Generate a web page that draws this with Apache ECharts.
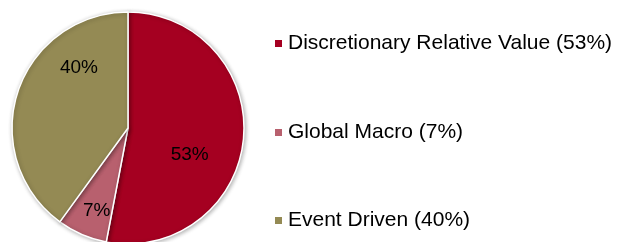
<!DOCTYPE html>
<html>
<head>
<meta charset="utf-8">
<script src="https://cdn.jsdelivr.net/npm/echarts@6/dist/echarts.min.js"></script>
<style>
  html, body { margin: 0; padding: 0; background: #fff; }
  #chart { width: 617px; height: 242px; }
</style>
</head>
<body>
<div id="chart"></div>
<script>
// strategy split, percent
var categories = ['Discretionary Relative Value', 'Global Macro', 'Event Driven'];
var values = [53, 7, 40];
var colors = ['#A50021', '#B8606E', '#948A54'];
// where the slice labels sit (Excel puts them off the default spot)
var labelShift = [[1, 21], [-7, 27], [9, -41]];
var legendTops = [28, 117, 205];

var myChart = echarts.init(document.getElementById('chart'));

var pieData = [];
for (var i = 0; i < categories.length; i++) {
    pieData.push({
        name: categories[i],
        value: values[i],
        itemStyle: { color: colors[i] },
        label: { offset: labelShift[i] }
    });
}

// one legend per item so the rows can be spaced like the original
var legends = [];
for (var j = 0; j < categories.length; j++) {
    legends.push({
        data: [categories[j]],
        left: 268,
        top: legendTops[j],
        icon: 'rect',
        itemWidth: 9,
        itemHeight: 9,
        itemGap: 0,
        selectedMode: false,
        textStyle: {
            fontFamily: 'Liberation Sans, Arial, sans-serif',
            fontSize: 21,
            color: '#000',
            padding: [0, 0, 0, 0]
        },
        formatter: function (name) {
            var k = categories.indexOf(name);
            return name + ' (' + values[k] + '%)';
        }
    });
}

var option = {
    backgroundColor: '#fff',
    animation: false,
    legend: legends,
    series: [{
        type: 'pie',
        center: [128, 128],
        radius: 116,
        startAngle: 90,
        clockwise: true,
        data: pieData,
        itemStyle: {
            borderColor: '#fff',
            borderWidth: 1.5,
            shadowBlur: 4,
            shadowOffsetX: 1,
            shadowOffsetY: 1,
            shadowColor: 'rgba(0,0,0,0.3)'
        },
        label: {
            show: true,
            position: 'inside',
            formatter: '{c}%',
            fontFamily: 'Liberation Sans, Arial, sans-serif',
            fontSize: 19,
            color: '#000'
        },
        labelLine: { show: false },
        emphasis: { disabled: true }
    }]
};

myChart.setOption(option);
</script>
</body>
</html>
